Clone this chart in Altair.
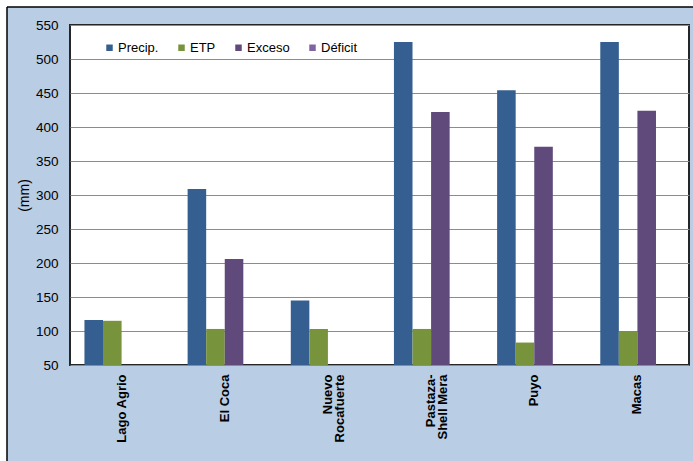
import altair as alt
import pandas as pd

stations = ["Lago Agrio", "El Coca", "Nuevo Rocafuerte", "Pastaza-Shell Mera", "Puyo", "Macas"]
series = ["Precip.", "ETP", "Exceso", "Déficit"]
precip = [116, 309, 145, 525, 454, 525]
etp = [115, 103, 103, 103, 83, 100]
exceso = [0, 206, 0, 422, 371, 424]
deficit = [0, 0, 0, 0, 0, 0]
colors = ["#365F91", "#77933C", "#604A7B", "#8064A2"]
y_ticks = list(range(50, 551, 50))

rows = []
for s, vals in zip(series, [precip, etp, exceso, deficit]):
    for st, v in zip(stations, vals):
        rows.append({"Estación": st, "Serie": s, "mm": v})
df = pd.DataFrame(rows)

FONT = "Liberation Sans"

label_expr = ("datum.value == 'Nuevo Rocafuerte' ? ['Nuevo', 'Rocafuerte'] : "
              "datum.value == 'Pastaza-Shell Mera' ? ['Pastaza-', 'Shell Mera'] : datum.value")

bars = alt.Chart(df).mark_bar(clip=True).encode(
    x=alt.X("Estación:N", sort=stations,
            scale=alt.Scale(paddingInner=0.28, paddingOuter=0.14),
            axis=alt.Axis(title=None, labelAngle=270, labelFont=FONT, labelFontSize=13,
                          labelFontWeight="bold", labelColor="#000000", labelPadding=9,
                          labelLineHeight=12, labelExpr=label_expr, ticks=False,
                          domain=False, grid=False)),
    xOffset=alt.XOffset("Serie:N", sort=series, scale=alt.Scale(domain=series, paddingInner=0, paddingOuter=0)),
    y=alt.Y("mm:Q", stack=None,
            scale=alt.Scale(domain=[50, 550], nice=False, zero=False),
            axis=alt.Axis(title="(mm)", values=y_ticks, ticks=False, domain=False,
                          labelFont=FONT, labelFontSize=13.5, labelColor="#000000",
                          labelPadding=12, titleFont=FONT, titleFontSize=14,
                          titleFontWeight="normal", titleColor="#000000", titlePadding=4,
                          grid=True, gridColor="#8C8C8C", gridWidth=1)),
    y2=alt.datum(50),
    color=alt.Color("Serie:N", sort=series,
                    scale=alt.Scale(domain=series, range=colors),
                    legend=alt.Legend(title=None, orient="none", direction="horizontal",
                                      legendX=33, legendY=16, symbolType="square",
                                      symbolSize=42, symbolStrokeWidth=0,
                                      labelFont=FONT, labelFontSize=13, labelColor="#000000",
                                      labelOffset=2, columnPadding=16, padding=0)),
)

deco_data = alt.Data(values=[{"k": 1}])
white_top = alt.Chart(deco_data).mark_rect(color="white").encode(
    x=alt.value(-70), x2=alt.value(623), y=alt.value(-25), y2=alt.value(-18))
white_left = alt.Chart(deco_data).mark_rect(color="white").encode(
    x=alt.value(-70), x2=alt.value(-63), y=alt.value(-25), y2=alt.value(436))
frame_top = alt.Chart(deco_data).mark_rule(color="black", strokeWidth=1.5).encode(
    x=alt.value(-63), x2=alt.value(623), y=alt.value(-18))
frame_left = alt.Chart(deco_data).mark_rule(color="black", strokeWidth=1.5).encode(
    x=alt.value(-63), y=alt.value(-18), y2=alt.value(436))

chart = alt.layer(white_top, white_left, frame_top, frame_left, bars).properties(
    width=619, height=340,
    background="#B9CDE5",
    padding={"left": 70, "top": 25, "right": 4, "bottom": 96},
    autosize=alt.AutoSizeParams(type="none"),
).configure_view(fill="white", stroke="#262626", strokeWidth=2)

chart.save("out.html", embed_options={"renderer": "svg", "actions": False})
